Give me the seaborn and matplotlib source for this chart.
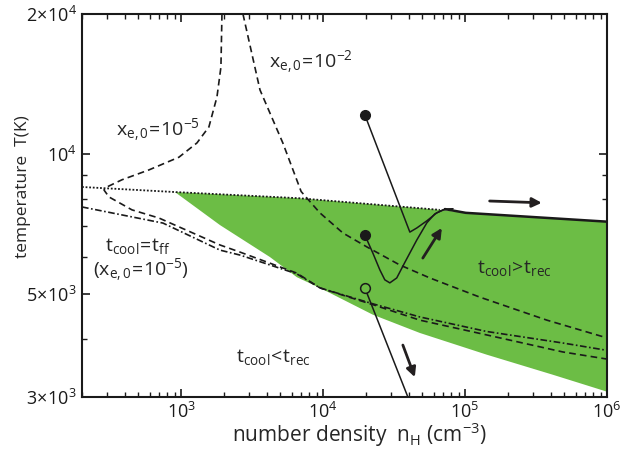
import numpy as np
import pandas as pd
import matplotlib
matplotlib.use("Agg")
import matplotlib.pyplot as plt
from matplotlib.ticker import FixedLocator, NullFormatter, LogLocator
import seaborn as sns

# values: n_H [cm^-3], T [K]
# x_e,0 = 1e-5 track, comes down from the top and turns back near 300 cm^-3
xe5_n = [1937, 1905, 1786, 1567, 1291, 964, 593, 383, 290, 286, 310, 450, 697,
         1876, 2594, 6535, 9490, 22400, 48000, 142000, 488000, 1e6]
xe5_T = [20000, 15380, 13260, 11430, 10560, 9840, 9240, 8800, 8450, 8360, 8080,
         7580, 7280, 6370, 6150, 5540, 5150, 4740, 4390, 4080, 3750, 3620]

# x_e,0 = 1e-2 track
xe2_n = [2723, 3590, 5200, 7000, 9480, 13780, 20320, 34670, 56490, 127000, 377000, 1e6]
xe2_T = [20000, 13730, 10560, 8300, 7470, 6760, 6310, 5770, 5410, 4920, 4390, 4020]

# t_cool = t_ff (dash-dot)
tff_n = [200, 450, 744, 1876, 2594, 6535, 9490, 22400, 48000, 142000, 488000, 1e6]
tff_T = [7690, 7320, 7100, 6210, 6060, 5520, 5150, 4760, 4460, 4150, 3920, 3780]

# t_cool = t_rec (dotted) and the merged solid part
rec_n = [200, 903, 6780, 66400]
rec_T = [8490, 8280, 8030, 7580]
merge_n = [72000, 101000, 1e6]
merge_T = [7610, 7470, 7150]

# green region t_cool > t_rec
top_n = [903, 6780, 66400, 101000, 1e6]
top_T = [8280, 8030, 7580, 7470, 7150]
low_n = [903, 1876, 4220, 6535, 9490, 22400, 48000, 142000, 415000, 1e6]
low_T = [8280, 7030, 6000, 5430, 5150, 4510, 4120, 3700, 3350, 3080]

# trajectories
trajA_n = [19680, 40830, 45700, 53800, 63200, 72000, 82000]
trajA_T = [12130, 6790, 6930, 7180, 7470, 7600, 7620]
trajB_n = [19680, 22400, 25100, 27200, 29500, 33000, 37600, 45700, 53800, 61200,
           69700, 82000]
trajB_T = [6690, 6120, 5630, 5360, 5280, 5410, 5840, 6530, 7110, 7430, 7580, 7620]
trajC_n = [19680, 39540]
trajC_T = [5150, 3000]

# arrows (tail, head)
arrow_tail_n = [149000, 50380, 36450]
arrow_tail_T = [7920, 5970, 3880]
arrow_head_n = [347000, 68600, 44260]
arrow_head_T = [7850, 6930, 3310]

green = "#6cbd45"
ink = "#231f20"

sns.set_theme(style="ticks")
plt.rcParams["font.family"] = ["Open Sans", "DejaVu Sans"]
plt.rcParams["mathtext.fontset"] = "custom"
plt.rcParams["mathtext.rm"] = "Open Sans"
plt.rcParams["mathtext.it"] = "Open Sans:italic"
plt.rcParams["mathtext.bf"] = "Open Sans:bold"

fig = plt.figure(figsize=(6.3, 4.54), dpi=100)
ax = fig.add_axes([82 / 630, 1 - 397 / 454, 525 / 630, 383 / 454])
ax.set_xscale("log")
ax.set_yscale("log")

# green region
poly_n = top_n + low_n[::-1]
poly_T = top_T + low_T[::-1]
ax.fill(poly_n, poly_T, color=green, lw=0, zorder=1)

def curve(n, T, **kw):
    df = pd.DataFrame({"n": n, "T": T})
    sns.lineplot(data=df, x="n", y="T", sort=False, estimator=None,
                 ax=ax, color="k", **kw)

curve(xe5_n, xe5_T, lw=1.2, linestyle=(0, (4, 2.5)), zorder=3)
curve(xe2_n, xe2_T, lw=1.2, linestyle=(0, (4, 2.5)), zorder=3)
curve(tff_n, tff_T, lw=1.2, linestyle=(0, (4, 1.5, 1, 1.5)), zorder=3)
curve(rec_n, rec_T, lw=1.3, linestyle=(0, (1, 1)), zorder=3)
curve(merge_n, merge_T, lw=1.8, zorder=3)
curve(trajA_n, trajA_T, lw=1.1, zorder=4)
curve(trajB_n, trajB_T, lw=1.1, zorder=4)
curve(trajC_n, trajC_T, lw=1.1, zorder=4)

ax.plot(trajA_n[0], trajA_T[0], "o", ms=7, color="k", zorder=5)
ax.plot(trajB_n[0], trajB_T[0], "o", ms=7, color="k", zorder=5)
ax.plot(trajC_n[0], trajC_T[0], "o", ms=7, mfc=green, mec="k", mew=1.1, zorder=5)

for n0, T0, n1, T1 in zip(arrow_tail_n, arrow_tail_T, arrow_head_n, arrow_head_T):
    ax.annotate("", xy=(n1, T1), xytext=(n0, T0),
                arrowprops=dict(arrowstyle="-|>", color=ink, lw=2,
                                mutation_scale=14, shrinkA=0, shrinkB=0),
                zorder=6)

fs = 14
ax.text(686, 11270, r"$\mathrm{x}_{\mathrm{e,0}}\!=\!10^{-5}$", fontsize=fs, ha="center", va="center")
ax.text(8200, 15770, r"$\mathrm{x}_{\mathrm{e,0}}\!=\!10^{-2}$", fontsize=fs, ha="center", va="center")
ax.text(495, 6340, r"$\mathrm{t}_{\mathrm{cool}}\!=\!\mathrm{t}_{\mathrm{ff}}$", fontsize=fs, ha="center", va="center")
ax.text(520, 5630, r"$(\mathrm{x}_{\mathrm{e,0}}\!=\!10^{-5})$", fontsize=fs, ha="center", va="center")
ax.text(4430, 3660, r"$\mathrm{t}_{\mathrm{cool}}\!<\!\mathrm{t}_{\mathrm{rec}}$", fontsize=fs, ha="center", va="center")
ax.text(224000, 5690, r"$\mathrm{t}_{\mathrm{cool}}\!>\!\mathrm{t}_{\mathrm{rec}}$", fontsize=fs, ha="center", va="center")

ax.set_xlim(200, 1e6)
ax.set_ylim(3000, 20000)

ax.xaxis.set_major_locator(LogLocator(base=10))
ax.xaxis.set_minor_locator(LogLocator(base=10, subs=np.arange(2, 10)))
ax.xaxis.set_minor_formatter(NullFormatter())
ax.yaxis.set_major_locator(FixedLocator([3000, 5000, 10000, 20000]))
ax.set_yticklabels([r"$3\!\times\!10^{3}$", r"$5\!\times\!10^{3}$", r"$10^{4}$", r"$2\!\times\!10^{4}$"])
ax.yaxis.set_minor_locator(FixedLocator([4000, 6000, 7000, 8000, 9000]))
ax.yaxis.set_minor_formatter(NullFormatter())

ax.tick_params(which="both", direction="in", top=True, right=True, colors="k", labelsize=13)
ax.tick_params(which="major", length=6, width=1.2)
ax.tick_params(which="minor", length=3.5, width=1.0)
for s in ax.spines.values():
    s.set_linewidth(1.5)
    s.set_color("k")

ax.set_xlabel(r"number density  n$_{\mathrm{H}}$ (cm$^{-3}$)", fontsize=15)
ax.set_ylabel("temperature  T(K)", fontsize=12.5)
ax.xaxis.set_label_coords(0.528, -0.06)
ax.yaxis.set_label_coords(-0.098, 0.55)

fig.savefig("out.png", dpi=100)
